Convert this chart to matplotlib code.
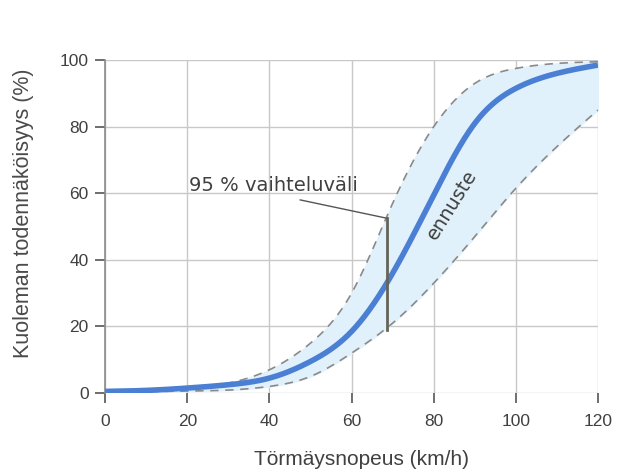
import numpy as np
import matplotlib.pyplot as plt

# values (every 10 km/h)
speed = [0, 10, 20, 30, 40, 50, 60, 70, 80, 90, 100, 110, 120]
ennuste = [0.5, 0.8, 1.5, 2.5, 4.5, 9.5, 18.5, 36, 59.5, 81, 91.5, 96, 98.5]
ylaraja = [0.5, 0.8, 1.5, 3, 7, 15, 30, 57, 80, 93, 97.5, 99, 99.5]
alaraja = [0.3, 0.4, 0.6, 0.9, 2, 5, 12, 21, 33, 47, 61.5, 74, 85]

grid_c = "#c8c8c8"
text_c = "#404040"


def spline(x, y, xs):
    # natural cubic spline through the read points
    x = np.asarray(x, float)
    y = np.asarray(y, float)
    n = len(x)
    h = np.diff(x)
    A = np.zeros((n, n))
    b = np.zeros(n)
    A[0, 0] = A[-1, -1] = 1
    for i in range(1, n - 1):
        A[i, i - 1] = h[i - 1]
        A[i, i] = 2 * (h[i - 1] + h[i])
        A[i, i + 1] = h[i]
        b[i] = 6 * ((y[i + 1] - y[i]) / h[i] - (y[i] - y[i - 1]) / h[i - 1])
    M = np.linalg.solve(A, b)
    idx = np.clip(np.searchsorted(x, xs) - 1, 0, n - 2)
    t0 = x[idx + 1] - xs
    t1 = xs - x[idx]
    hi_ = h[idx]
    return (M[idx] * t0**3 / (6 * hi_) + M[idx + 1] * t1**3 / (6 * hi_)
            + (y[idx] / hi_ - M[idx] * hi_ / 6) * t0
            + (y[idx + 1] / hi_ - M[idx + 1] * hi_ / 6) * t1)


xs = np.linspace(0, 120, 600)
mid = spline(speed, ennuste, xs)
hi = spline(speed, ylaraja, xs)
lo = spline(speed, alaraja, xs)

fig = plt.figure(figsize=(6.19, 4.73), dpi=100)
ax = fig.add_axes([0.170, 0.169, 0.796, 0.704])

ax.fill_between(xs, lo, hi, color="#e1f1fb", zorder=1)
ax.plot(xs, hi, color="#8a8a8a", lw=1.2, ls=(0, (5, 4)), zorder=2)
ax.plot(xs, lo, color="#8a8a8a", lw=1.2, ls=(0, (5, 4)), zorder=2)
ax.plot(xs, mid, color="#4a7fd3", lw=4, solid_capstyle="butt", zorder=3)

# 95 % interval marker
ax.plot([47.5, 68.6], [58, 52.5], color="#555555", lw=1, zorder=4)
ax.plot([68.6, 68.6], [52.5, 19], color="#646458", lw=2, zorder=4)
ax.text(20.5, 62.4, "95 % vaihteluväli", fontsize=14, color=text_c, va="center")
ax.text(84.5, 56.4, "ennuste", fontsize=14, color=text_c, rotation=58,
        ha="center", va="center", zorder=5)

ax.set_xlim(0, 120)
ax.set_ylim(0, 100)
ax.set_xticks(range(0, 121, 20))
ax.set_yticks(range(0, 101, 20))
ax.grid(True, color=grid_c, lw=1)
ax.set_axisbelow(True)
for s in ["top", "right", "bottom"]:
    ax.spines[s].set_visible(False)
ax.spines["left"].set_color("#8a8a8a")
ax.spines["left"].set_linewidth(1.2)
ax.tick_params(axis="both", colors="#555555", labelcolor=text_c, labelsize=12.5,
               length=7, width=1.2, direction="out")
ax.tick_params(axis="y", pad=5)
ax.tick_params(axis="x", pad=8)
for lab in ax.get_xticklabels() + ax.get_yticklabels():
    lab.set_family("Liberation Sans")

ax.set_xlabel("Törmäysnopeus (km/h)", fontsize=15, color=text_c,
              family="Liberation Sans")
ax.xaxis.set_label_coords(0.52, -0.17)
ax.set_ylabel("Kuoleman todennäköisyys (%)", fontsize=15.5, color="#4a4a4a",
              family="Liberation Sans")
ax.yaxis.set_label_coords(-0.145, 0.54)

fig.savefig("out.png", dpi=100)
